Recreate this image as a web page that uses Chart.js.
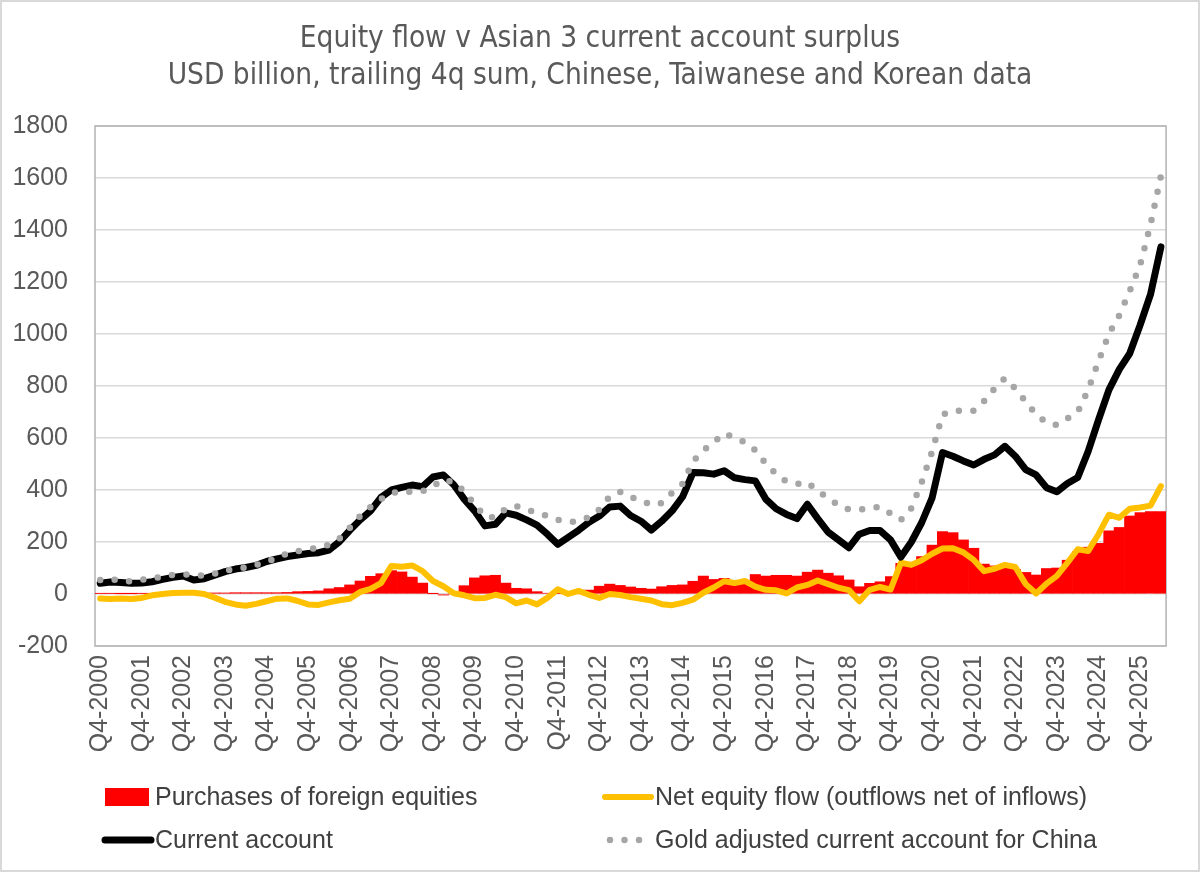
<!DOCTYPE html>
<html>
<head>
<meta charset="utf-8">
<script src="https://cdn.jsdelivr.net/npm/chart.js@4.4.1/dist/chart.umd.min.js"></script>
<style>
html,body{margin:0;padding:0;background:#fff;}
#wrap{position:relative;width:1200px;height:872px;}
canvas{display:block;}
</style>
</head>
<body>
<div id="wrap"><canvas id="c" width="1200" height="872"></canvas></div>
<script>
// ---- text ----
const titleLines = [
  "Equity flow v Asian 3 current account surplus",
  "USD billion, trailing 4q sum, Chinese, Taiwanese and Korean data"
];
const seriesNames = [
  "Purchases of foreign equities",
  "Net equity flow (outflows net of inflows)",
  "Current account",
  "Gold adjusted current account for China"
];

// ---- categories: quarterly from Q4-2000 (103 quarters) ----
const categories = [];
for (let i = 0; i < 103; i++) {
  const q = (3 + i) % 4 + 1;
  const yr = 2000 + Math.floor((3 + i) / 4);
  categories.push("Q" + q + "-" + yr);
}

// ---- y axis ticks ----
const yMin = -200;
const yMax = 1800;
const yStep = 200;

// ---- series values (USD bn, trailing 4q sum) ----
const purchases = [
  2,2,1,1,2,2,3,3,3,3,
  3,4,4,5,5,5,5,5,6,9,
  10,12,20,25,35,50,68,78,90,85,
  65,42,1,-4,0,32,62,70,72,42,
  22,20,9,3,2,3,5,15,30,38,
  33,27,22,19,28,33,35,49,69,56,
  60,42,45,75,69,72,72,69,84,92,
  80,70,54,28,41,47,67,118,122,144,
  188,240,236,208,176,115,108,100,95,83,
  73,98,100,130,163,180,195,243,256,300,
  313,317,317
];
const netFlow = [
  -17,-19,-17,-19,-15,-5,0,4,5,5,
  0,-14,-30,-40,-45,-38,-28,-18,-17,-27,
  -40,-42,-32,-24,-18,8,20,42,108,105,
  110,88,50,30,3,-5,-16,-15,-3,-12,
  -36,-25,-40,-15,18,0,12,-3,-15,0,
  -4,-12,-18,-25,-39,-43,-34,-22,5,25,
  49,42,50,28,16,14,2,25,35,52,
  38,24,15,-28,16,27,17,120,112,130,
  155,175,176,160,131,88,97,112,104,38,
  2,40,70,120,172,165,230,305,293,328,
  333,340,415
];
const currentAccount = [
  41,46,44,41,42,47,56,64,69,54,
  59,72,86,96,102,110,125,135,144,150,
  156,159,169,201,245,285,320,372,400,410,
  419,413,450,458,420,365,320,262,268,312,
  303,285,265,230,191,218,245,276,300,335,
  338,302,280,246,280,320,374,467,466,461,
  474,447,440,435,365,328,306,290,345,290,
  238,208,178,230,244,244,208,142,200,275,
  370,544,530,512,496,518,535,568,530,478,
  458,409,393,425,448,548,670,785,864,925,
  1034,1152,1335
];
const goldAdjusted = [
  54,57,52,48,55,60,67,74,76,73,
  70,78,90,96,102,112,125,138,156,165,
  172,178,190,213,255,300,335,365,388,395,
  392,395,415,440,430,395,345,298,294,328,
  338,325,312,300,285,276,280,295,325,375,
  393,373,360,342,350,390,424,510,552,584,
  618,601,584,553,502,461,432,423,430,395,
  370,340,325,325,330,335,310,285,330,430,
  548,690,704,705,705,742,790,830,790,740,
  690,660,650,675,700,785,895,1000,1072,1165,
  1265,1420,1608
];

// ---- styles ----
const RED = "#ff0000", YELLOW = "#ffc000", BLACK = "#000000", GREY = "#a6a6a6";
const TEXT = "#595959";
const FONT = "'Liberation Sans', Arial, sans-serif";
const TITLE_FONT = "'Liberation Sans Narrow', 'Arial Narrow', 'DejaVu Sans Condensed', sans-serif";

const framePlugin = {
  id: "frame",
  beforeDatasetsDraw(chart) {
    const {ctx, chartArea: a} = chart;
    ctx.save();
    ctx.strokeStyle = "#b3b3b3";
    ctx.lineWidth = 1.5;
    ctx.strokeRect(a.left, a.top, a.right - a.left, a.bottom - a.top);
    ctx.restore();
  },
  afterDraw(chart) {
    const ctx = chart.ctx;
    ctx.save();
    // outer picture border
    ctx.strokeStyle = "#d9d9d9";
    ctx.lineWidth = 2;
    ctx.strokeRect(1, 1, chart.width - 2, chart.height - 2);
    // title
    ctx.fillStyle = TEXT;
    ctx.textAlign = "center";
    ctx.textBaseline = "middle";
    ctx.font = "29.5px " + TITLE_FONT;
    ctx.fillText(titleLines[0], chart.width / 2, 39);
    ctx.fillText(titleLines[1], chart.width / 2, 76);
    // legend (2 x 2 grid)
    const ds = chart.data.datasets;
    const cells = [
      {d: ds[0], x: 105, y: 797},
      {d: ds[1], x: 605, y: 797},
      {d: ds[2], x: 105, y: 840},
      {d: ds[3], x: 605, y: 840}
    ];
    ctx.textAlign = "left";
    ctx.font = "25px " + FONT;
    cells.forEach(c => {
      const d = c.d;
      if (d.type === "bar") {
        ctx.fillStyle = d.backgroundColor;
        ctx.fillRect(c.x, c.y - 9, 44, 18);
      } else {
        ctx.beginPath();
        ctx.strokeStyle = d.borderColor;
        ctx.lineWidth = d.borderWidth;
        ctx.lineCap = d.borderCapStyle || "butt";
        ctx.setLineDash(d.borderDash || []);
        ctx.moveTo(c.x + (d.borderDash ? 5 : 0), c.y);
        ctx.lineTo(c.x + 46, c.y);
        ctx.stroke();
        ctx.setLineDash([]);
      }
      ctx.fillStyle = "#404040";
      ctx.fillText(d.label, c.x + 50, c.y + 1);
    });
    ctx.restore();
  }
};

new Chart(document.getElementById("c"), {
  data: {
    labels: categories,
    datasets: [
      {
        type: "bar", label: seriesNames[0], data: purchases,
        backgroundColor: RED, borderWidth: 0,
        barPercentage: 1, categoryPercentage: 1, order: 4
      },
      {
        type: "line", label: seriesNames[1], data: netFlow,
        borderColor: YELLOW, borderWidth: 6, pointRadius: 0, tension: 0,
        borderJoinStyle: "round", borderCapStyle: "round", order: 3
      },
      {
        type: "line", label: seriesNames[2], data: currentAccount,
        borderColor: BLACK, borderWidth: 7, pointRadius: 0, tension: 0,
        borderJoinStyle: "round", borderCapStyle: "round", order: 2
      },
      {
        type: "line", label: seriesNames[3], data: goldAdjusted,
        borderColor: GREY, borderWidth: 6.5, pointRadius: 0, tension: 0,
        borderDash: [0, 14.5], borderCapStyle: "round", borderJoinStyle: "round", order: 1
      }
    ]
  },
  options: {
    responsive: false,
    animation: false,
    devicePixelRatio: 1,
    layout: {padding: {top: 126, right: 21, bottom: 101, left: 0}},
    plugins: {legend: {display: false}, title: {display: false}, tooltip: {enabled: false}},
    scales: {
      x: {
        type: "category",
        offset: true,
        grid: {display: false, drawTicks: false},
        border: {display: false},
        ticks: {
          autoSkip: false, maxRotation: 90, minRotation: 90, padding: 9,
          color: TEXT, font: {family: FONT, size: 25},
          callback: function (v, i) { return i % 4 === 0 ? this.getLabelForValue(v) : ""; }
        },
        afterFit: s => { s.height = 125; }
      },
      y: {
        min: yMin, max: yMax,
        grid: {color: "#d9d9d9", lineWidth: 1.5, drawTicks: false},
        border: {display: false},
        ticks: {
          stepSize: yStep, padding: 27, color: TEXT, font: {family: FONT, size: 25},
          callback: v => String(v)
        },
        afterFit: s => { s.width = 95; }
      }
    }
  },
  plugins: [framePlugin]
});
</script>
</body>
</html>
